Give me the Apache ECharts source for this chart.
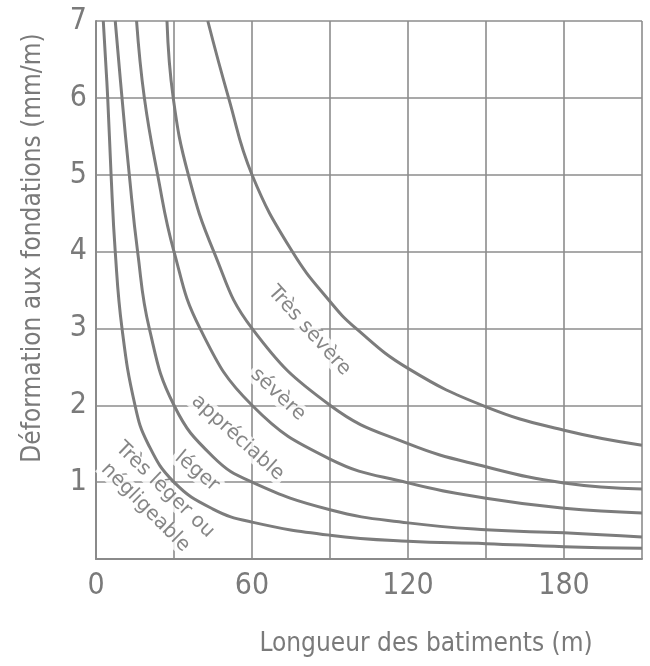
<!DOCTYPE html>
<html>
<head>
<meta charset="utf-8">
<script src="https://cdn.jsdelivr.net/npm/echarts@6/dist/echarts.min.js"></script>
<style>html,body{margin:0;padding:0;background:#fff;}#c{width:650px;height:666px;}</style>
</head>
<body>
<div id="c"></div>
<script>
// Values: [longueur (m), déformation (mm/m)]
var curveTresLeger = [[2.8,7],[4.5,6],[5.8,5],[7.4,4],[10,3],[15,2],[20,1.5],[30,1],[45,0.65],[60,0.48],[90,0.31],[120,0.23],[150,0.2],[180,0.16],[210,0.14]];
var curveLeger = [[7.4,7],[10,6],[12.8,5],[16,4],[20.5,3],[30,2],[45,1.33],[60,1.0],[90,0.64],[120,0.47],[150,0.38],[180,0.34],[210,0.285]];
var curveAppreciable = [[15.6,7],[18.6,6],[23.7,5],[30,4],[40,3],[60,2],[90,1.3],[120,0.99],[150,0.79],[180,0.66],[210,0.6]];
var curveSevere = [[27.3,7],[29.7,6],[35.5,5],[45.3,4],[60,3],[90,2],[120,1.5],[150,1.2],[180,0.99],[210,0.91]];
var curveTresSevere = [[43,7],[51,6],[60,5],[75.5,4],[90,3.35],[100,3],[120,2.48],[150,1.98],[180,1.675],[210,1.48]];

var zoneNames = ['Très sévère', 'sévère', 'appréciable', 'léger', 'Très léger ou', 'négligeable'];
var zoneX = [82, 70, 54.5, 38.8, 26.5, 19];
var zoneY = [2.97, 2.14, 1.58, 1.14, 0.9, 0.67];
var zoneAngle = [-48, -43, -42, -40, -44, -45];

var xTitle = 'Longueur des batiments (m)';
var yTitle = 'Déformation aux fondations (mm/m)';

var grey = '#7a7a7a';
var curves = [curveTresLeger, curveLeger, curveAppreciable, curveSevere, curveTresSevere];

var series = curves.map(function (d) {
  return {
    type: 'line', data: d, showSymbol: false, smooth: 0.45,
    lineStyle: { color: '#7c7c7c', width: 3 }, z: 4, silent: true
  };
});

series.push({
  type: 'scatter', z: 3, silent: true, symbolSize: 1,
  itemStyle: { color: 'rgba(0,0,0,0)' },
  data: zoneNames.map(function (n, i) {
    return {
      name: n, value: [zoneX[i], zoneY[i]],
      label: { rotate: zoneAngle[i] }
    };
  }),
  label: {
    show: true, position: 'inside', formatter: '{b}',
    fontFamily: 'DejaVu Sans', fontSize: 20, color: '#686868',
    backgroundColor: '#fff', padding: [0, 3]
  }
});

var chart = echarts.init(document.getElementById('c'), null, { renderer: 'canvas' });
chart.setOption({
  animation: false,
  backgroundColor: '#fff',
  grid: { left: 96, right: 8, top: 21, bottom: 107 },
  xAxis: {
    type: 'value', min: 0, max: 210, interval: 30,
    name: xTitle, nameLocation: 'middle', nameGap: 72,
    nameTextStyle: { fontFamily: 'DejaVu Sans Condensed', fontSize: 26, color: grey, padding: [0, 0, 0, 114] },
    axisLine: { show: true, lineStyle: { color: '#8a8a8a', width: 2 } },
    axisTick: { show: false },
    axisLabel: {
      fontFamily: 'DejaVu Sans Condensed', fontSize: 30, color: grey, margin: 12,
      formatter: function (v) { return v % 60 === 0 ? String(v) : ''; }
    },
    splitLine: { show: true, lineStyle: { color: '#8c8c8c', width: 1.6 } }
  },
  yAxis: {
    type: 'value', min: 0, max: 7, interval: 1,
    name: yTitle, nameLocation: 'middle', nameGap: 50, nameRotate: 90,
    nameTextStyle: { fontFamily: 'DejaVu Sans Condensed', fontSize: 26, color: grey, padding: [0, 0, 0, 84] },
    axisLine: { show: true, lineStyle: { color: '#8a8a8a', width: 2 } },
    axisTick: { show: false },
    axisLabel: {
      fontFamily: 'DejaVu Sans Condensed', fontSize: 30, color: grey, margin: 9,
      padding: [0, 0, 8, 0],
      formatter: function (v) { return v === 0 ? '' : String(v); }
    },
    splitLine: { show: true, lineStyle: { color: '#8c8c8c', width: 1.6 } }
  },
  series: series
});
</script>
</body>
</html>
